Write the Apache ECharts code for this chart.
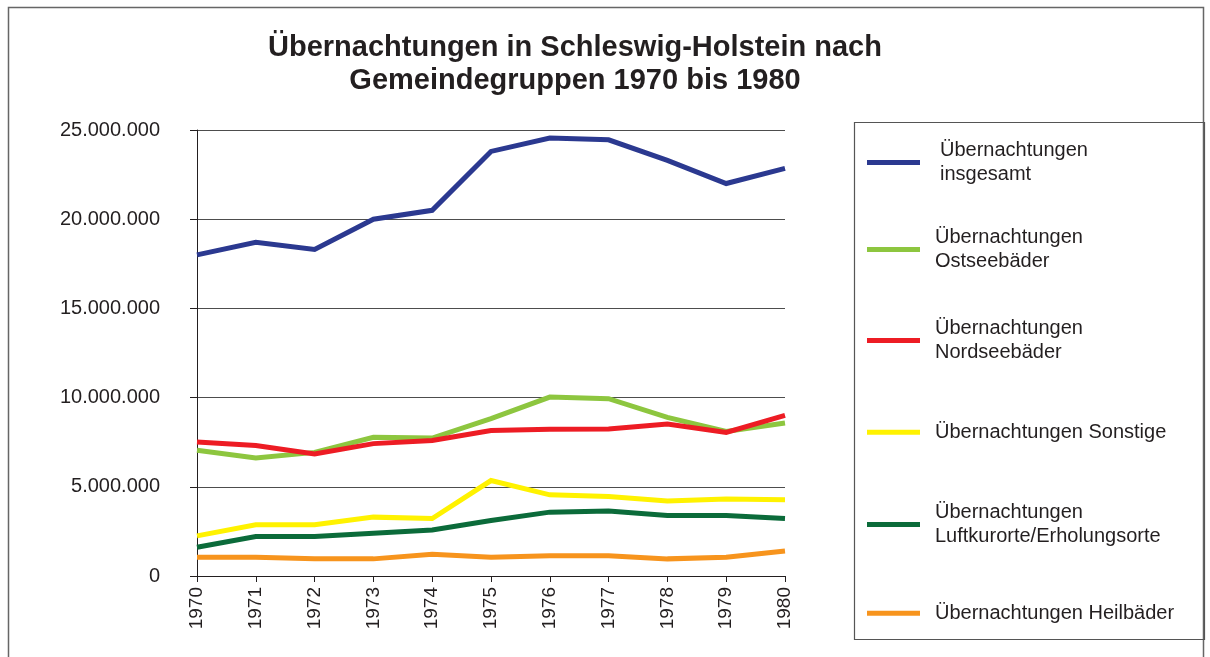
<!DOCTYPE html>
<html>
<head>
<meta charset="utf-8">
<script src="https://cdn.jsdelivr.net/npm/echarts@6/dist/echarts.min.js"></script>
<style>
html,body{margin:0;padding:0;background:#fff;}
#chart{width:1210px;height:657px;}
</style>
</head>
<body>
<div id="chart"></div>
<script>
// ---- data ----
const years = ['1970','1971','1972','1973','1974','1975','1976','1977','1978','1979','1980'];
const seriesNames = [
  'Übernachtungen insgesamt',
  'Übernachtungen Ostseebäder',
  'Übernachtungen Nordseebäder',
  'Übernachtungen Sonstige',
  'Übernachtungen Luftkurorte/Erholungsorte',
  'Übernachtungen Heilbäder'
];
const legendLabels = [
  'Übernachtungen\ninsgesamt',
  'Übernachtungen\nOstseebäder',
  'Übernachtungen\nNordseebäder',
  'Übernachtungen Sonstige',
  'Übernachtungen\nLuftkurorte/Erholungsorte',
  'Übernachtungen Heilbäder'
];
const insgesamt = [18000000, 18700000, 18300000, 20000000, 20500000, 23800000, 24550000, 24450000, 23300000, 22000000, 22850000];
const ostseebaeder = [7050000, 6620000, 6930000, 7780000, 7730000, 8820000, 10030000, 9940000, 8890000, 8100000, 8580000];
const nordseebaeder = [7510000, 7320000, 6840000, 7420000, 7600000, 8150000, 8220000, 8240000, 8520000, 8050000, 9000000];
const sonstige = [2250000, 2870000, 2870000, 3300000, 3220000, 5350000, 4550000, 4460000, 4210000, 4310000, 4270000];
const luftkurorte = [1610000, 2210000, 2210000, 2400000, 2580000, 3110000, 3580000, 3650000, 3390000, 3390000, 3220000];
const heilbaeder = [1050000, 1050000, 960000, 960000, 1220000, 1050000, 1140000, 1140000, 960000, 1050000, 1400000];
const yTicks = [0, 5000000, 10000000, 15000000, 20000000, 25000000];

const values = [insgesamt, ostseebaeder, nordseebaeder, sonstige, luftkurorte, heilbaeder];
const colors = ['#2b3990', '#8dc63f', '#ed1c24', '#fff200', '#0b6b3a', '#f7941d'];
const legendTops = [138, 225, 316, 420, 500, 601];
const FONT = '"Liberation Sans", Arial, Helvetica, sans-serif';

function fmt(v){
  return String(Math.round(v)).replace(/\B(?=(\d{3})+(?!\d))/g, '.');
}

const chart = echarts.init(document.getElementById('chart'), null, {renderer:'canvas'});

const legends = seriesNames.map((n, i) => ({
  data: [n],
  orient: 'vertical',
  left: 867,
  top: legendTops[i],
  padding: 0,
  icon: 'rect',
  itemWidth: 53,
  itemHeight: 5,
  selectedMode: false,
  formatter: () => legendLabels[i],
  textStyle: {
    fontFamily: FONT, fontSize: 20, color: '#231f20', lineHeight: 24.5,
    padding: [0, 0, 0, i === 0 ? 15 : 10]
  }
}));

chart.setOption({
  animation: false,
  backgroundColor: '#fff',
  title: {
    text: 'Übernachtungen in Schleswig-Holstein nach\nGemeindegruppen 1970 bis 1980',
    left: 570,
    textAlign: 'center',
    top: 26,
    textStyle: { fontFamily: FONT, fontSize: 29, fontWeight: 'bold', color: '#231f20', lineHeight: 33 }
  },
  legend: legends,
  grid: { left: 197, right: 425, top: 130, bottom: 81, containLabel: false },
  xAxis: {
    type: 'category',
    data: years,
    boundaryGap: false,
    axisLine: { lineStyle: { color: '#231f20', width: 1 } },
    axisTick: { show: true, length: 6, lineStyle: { color: '#231f20' } },
    axisLabel: { rotate: 90, margin: 11, fontFamily: FONT, fontSize: 19, color: '#231f20' },
    splitLine: { show: false }
  },
  yAxis: {
    type: 'value',
    min: 0, max: 25000000, interval: 5000000,
    axisLine: { show: true, lineStyle: { color: '#231f20', width: 1 } },
    axisTick: { show: true, length: 7, lineStyle: { color: '#231f20' } },
    axisLabel: {
      margin: 37, fontFamily: FONT, fontSize: 20, color: '#231f20',
      formatter: v => yTicks.includes(v) ? fmt(v) : ''
    },
    splitLine: { show: true, lineStyle: { color: '#4d4d4d', width: 1 } }
  },
  series: seriesNames.map((n, i) => ({
    name: n,
    type: 'line',
    data: values[i],
    symbol: 'none',
    color: colors[i],
    lineStyle: { color: colors[i], width: 5, join: 'miter', cap: 'butt' },
    z: 2 + i
  })),
  graphic: [
    { type: 'rect', shape: { x: 8.5, y: 7.5, width: 1195, height: 700 },
      style: { fill: 'none', stroke: '#666', lineWidth: 1.5 }, silent: true, z: 0 },
    { type: 'rect', shape: { x: 854.5, y: 122.5, width: 350, height: 517 },
      style: { fill: 'none', stroke: '#555', lineWidth: 1.2 }, silent: true, z: 0 }
  ]
});
</script>
</body>
</html>
